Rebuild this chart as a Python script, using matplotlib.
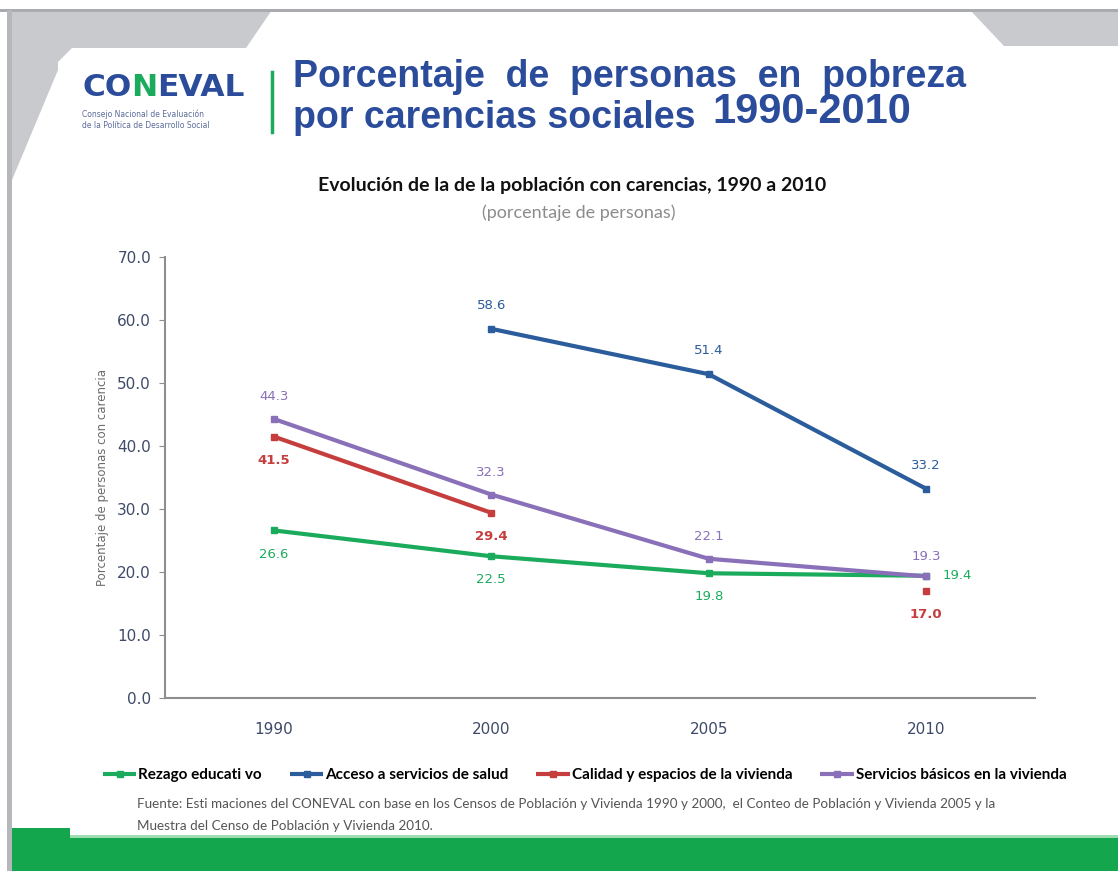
"""
Porcentaje de personas en pobreza por carencias sociales 1990-2010 (CONEVAL slide).
"""
import matplotlib
matplotlib.use("Agg")
import matplotlib.pyplot as plt
from matplotlib.patches import Polygon, Rectangle
import numpy as np

years = ["1990", "2000", "2005", "2010"]
rezago = [26.6, 22.5, 19.8, 19.4]
salud = [np.nan, 58.6, 51.4, 33.2]
calidad = [41.5, 29.4, np.nan, 17.0]
servicios = [44.3, 32.3, 22.1, 19.3]

series_names = ["Rezago educati vo", "Acceso a servicios de salud",
                "Calidad y espacios de la vivienda", "Servicios básicos en la vivienda"]
yticks = [0, 10, 20, 30, 40, 50, 60, 70]

GREEN = "#1bab5c"
BLUE = "#2b5c9b"
RED = "#c63d3d"
PURPLE = "#8a70b8"
TITLE_BLUE = "#2b4c9b"
GRAY = "#c8cacd"

W, H = 1118, 871
fig = plt.figure(figsize=(W / 100, H / 100), dpi=100)

# slide background, drawn in pixel coordinates
bg = fig.add_axes([0, 0, 1, 1], zorder=-1)
bg.set_xlim(0, W)
bg.set_ylim(H, 0)
bg.axis("off")
bg.add_patch(Polygon([(7, 10), (272, 10), (246, 48), (72, 48), (58, 62), (58, 70), (12, 180), (7, 180)],
                     closed=True, color=GRAY, lw=0))
bg.add_patch(Polygon([(970, 10), (W, 10), (W, 46), (1004, 46)], closed=True, color=GRAY, lw=0))
bg.add_patch(Rectangle((0, 9), W, 3, color="#a9abae", lw=0))
bg.add_patch(Rectangle((7, 10), 5, H - 10, color="#b5b7ba", lw=0))
bg.add_patch(Rectangle((12, 828), 58, 44, color="#14a64c", lw=0))
bg.add_patch(Rectangle((12, 838), W, 34, color="#14a64c", lw=0))
bg.add_patch(Rectangle((70, 835), W, 3, color="#9fdcb3", lw=0))

# logo, pieces chained one after the other
renderer = fig.canvas.get_renderer()
logo_x = 82
for part, col in [("CO", TITLE_BLUE), ("N", GREEN), ("EVAL", TITLE_BLUE)]:
    t = bg.text(logo_x, 87, part, fontsize=22.5, fontweight="heavy", color=col,
                family="DejaVu Sans", va="center", ha="left")
    bb = t.get_window_extent(renderer)
    logo_x += bb.width
bg.text(82, 114, "Consejo Nacional de Evaluación", fontsize=5.5, color="#5a6b9a", va="center")
bg.text(82, 126, "de la Política de Desarrollo Social", fontsize=5.5, color="#5a6b9a", va="center")
bg.plot([272, 272], [72, 132], color=GREEN, lw=2.5)

# slide title
bg.text(293, 77, "Porcentaje  de  personas  en  pobreza", fontsize=27, fontweight="bold",
        color=TITLE_BLUE, family="Liberation Sans", va="center")
bg.text(293, 118, "por carencias sociales", fontsize=27, fontweight="bold",
        color=TITLE_BLUE, family="Liberation Sans", va="center")
bg.text(712, 112, "1990-2010", fontsize=30, fontweight="heavy",
        color=TITLE_BLUE, family="Liberation Sans", va="center")

# chart title
bg.text(572, 186, "Evolución de la de la población con carencias, 1990 a 2010", fontsize=14,
        fontweight="bold", family="Lato", color="#111111", ha="center", va="center")
bg.text(579, 213, "(porcentaje de personas)", fontsize=13, family="Lato", color="#8c8c8c",
        ha="center", va="center")

# chart
ax = fig.add_axes([165 / W, 1 - 698 / H, 870 / W, 441 / H])
ax.set_facecolor("none")
x = np.arange(len(years))
series = [rezago, salud, calidad, servicios]
colors = [GREEN, BLUE, RED, PURPLE]
for vals, col, name in zip(series, colors, series_names):
    ax.plot(x, vals, color=col, lw=3, marker="s", markersize=5, label=name, solid_capstyle="butt")

# data labels: (dx, dy) offsets in points
offsets = {
    0: [(0, -17), (0, -17), (0, -17), (22, 0)],
    1: [(0, 17), (0, 17), (0, 17), (0, 17)],
    2: [(0, -17), (0, -17), (0, -17), (0, -17)],
    3: [(0, 16), (0, 16), (0, 16), (0, 14)],
}
for i, (vals, col) in enumerate(zip(series, colors)):
    for j, v in enumerate(vals):
        if np.isnan(v):
            continue
        dx, dy = offsets[i][j]
        ax.annotate(f"{v:.1f}", (x[j], v), xytext=(dx, dy), textcoords="offset points",
                    ha="center", va="center", fontsize=9.5, color=col,
                    fontweight="bold" if i == 2 else "normal")

ax.set_xlim(-0.5, 3.5)
ax.set_ylim(0, 70)
ax.set_yticks(yticks)
ax.set_yticklabels([f"{v:.1f}" for v in yticks])
ax.set_xticks(x)
ax.set_xticklabels(years)
for s in ["top", "right"]:
    ax.spines[s].set_visible(False)
for s in ["left", "bottom"]:
    ax.spines[s].set_color("#8e8e8e")
    ax.spines[s].set_linewidth(1.5)
ax.tick_params(axis="y", colors="#8e8e8e", labelcolor="#3e4a68", labelsize=11, length=4, pad=6)
ax.tick_params(axis="x", length=0, labelcolor="#3e4a68", labelsize=11, pad=17)
ax.set_ylabel("Porcentaje de personas con carencia", fontsize=8.5, color="#6b6b6b", labelpad=6)

leg = ax.legend(loc="center left", bbox_to_anchor=(-76 / 870, -77 / 441), ncol=4, frameon=False,
                handlelength=2.2, handletextpad=0.1, columnspacing=1.85,
                prop={"family": "Lato", "weight": "bold", "size": 11})

bg.text(137, 804, "Fuente: Esti maciones del CONEVAL con base en los Censos de Población y Vivienda 1990 y 2000,  "
        "el Conteo de Población y Vivienda 2005 y la", fontsize=9.7, family="Lato", color="#555555", va="center")
bg.text(137, 826, "Muestra del Censo de Población y Vivienda 2010.", fontsize=9.7, family="Lato",
        color="#555555", va="center")

fig.savefig("out.png", dpi=100)
